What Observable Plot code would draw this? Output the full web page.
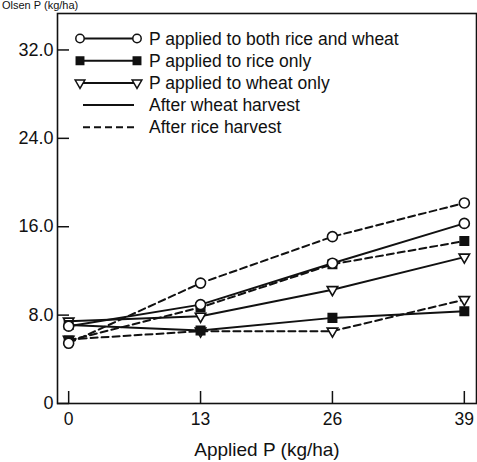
<!DOCTYPE html>
<html>
<head>
<meta charset="utf-8">
<script src="https://cdn.jsdelivr.net/npm/d3@7"></script>
<script src="https://cdn.jsdelivr.net/npm/@observablehq/plot@0.6"></script>
<style>
  html, body { margin: 0; padding: 0; background: #fff; }
  #wrap { position: relative; width: 477px; height: 462px; overflow: hidden; font-family: "Liberation Sans", Arial, sans-serif; }
  #title { position: absolute; left: 2px; top: 0px; font-size: 11px; line-height: 11px; color: #111; white-space: nowrap; }
  #chart { position: absolute; left: 0; top: 0; }
</style>
</head>
<body>
<div id="wrap">
  <div id="chart"></div>
  <div id="title">Olsen P (kg/ha)</div>
</div>
<script>
// ---- data ----
const xValues = [0, 13, 26, 39];
const xTicks = [0, 13, 26, 39];
const yTicks = [0, 8, 16, 24, 32];

const treatments = ["both", "rice", "wheat"];
const treatmentLabels = ["P applied to both rice and wheat", "P applied to rice only", "P applied to wheat only"];
const harvestLabels = ["After wheat harvest", "After rice harvest"];

// After wheat harvest (solid)
const bothWheat  = [7.0, 8.95, 12.7, 16.3];
const riceWheat  = [7.1, 6.6, 7.75, 8.35];
const wheatWheat = [7.45, 7.9, 10.3, 13.25];
// After rice harvest (dashed)
const bothRice   = [5.45, 10.9, 15.1, 18.15];
const riceRice   = [5.7, 8.7, 12.6, 14.7];
const wheatRice  = [5.8, 6.55, 6.55, 9.4];

const rows = [];
function add(arr, treatment, harvest) {
  arr.forEach((v, i) => rows.push({x: xValues[i], y: v, treatment, harvest, key: treatment + "-" + harvest}));
}
add(bothWheat, "both", "wheat");
add(riceWheat, "rice", "wheat");
add(wheatWheat, "wheat", "wheat");
add(bothRice, "both", "rice");
add(riceRice, "rice", "rice");
add(wheatRice, "wheat", "rice");

const solid = rows.filter(d => d.harvest === "wheat");
const dashed = rows.filter(d => d.harvest === "rice");
const circles = rows.filter(d => d.treatment === "both");
const squares = rows.filter(d => d.treatment === "rice");
const triangles = rows.filter(d => d.treatment === "wheat");

const DASH = "7,4";

const chart = Plot.plot({
  width: 477,
  height: 462,
  marginLeft: 57,
  marginRight: 1,
  marginTop: 13,
  marginBottom: 59,
  style: {fontFamily: "Liberation Sans, Arial, sans-serif", fontSize: "17px", color: "#111", background: "#fff"},
  x: {domain: [-1.1, 40.2]},
  y: {domain: [0, 35.3]},
  marks: [
    Plot.axisX(xTicks, {tickSize: -12, tickPadding: 21, strokeWidth: 1.5, label: null, fontSize: 17.5}),
    Plot.axisX({ticks: [], tickSize: 0, label: "Applied P (kg/ha)", labelAnchor: "center", labelArrow: "none", labelOffset: 52, fontSize: 19}),
    Plot.axisY(yTicks, {tickSize: -12, tickPadding: 16, strokeWidth: 1.5, tickFormat: d => d === 0 ? "0" : d.toFixed(1), label: null, fontSize: 18}),
    Plot.frame({stroke: "#111", strokeWidth: 1.6}),
    Plot.line(solid, {x: "x", y: "y", z: "key", stroke: "#111", strokeWidth: 2}),
    Plot.line(dashed, {x: "x", y: "y", z: "key", stroke: "#111", strokeWidth: 2, strokeDasharray: DASH}),
    Plot.dot(triangles, {x: "x", y: "y", symbol: "triangle", r: 3.9, rotate: 180, fill: "#fff", stroke: "#111", strokeWidth: 1.6}),
    Plot.dot(squares, {x: "x", y: "y", symbol: "square", r: 4.8, fill: "#111", stroke: "#111"}),
    Plot.dot(circles, {x: "x", y: "y", symbol: "circle", r: 5, fill: "#fff", stroke: "#111", strokeWidth: 1.6})
  ]
});
document.getElementById("chart").appendChild(chart);

// ---- in-plot legend (layout only) ----
const svg = d3.select(chart);
const lg = svg.append("g").attr("class", "legend").attr("text-anchor", "start");
const lx1 = 80, lx2 = 137, tx = 149, ly0 = 38.5, lstep = 22.2;
const symbolFor = {both: d3.symbolCircle, rice: d3.symbolSquare, wheat: d3.symbolTriangle};
const entries = [
  ...treatments.map((t, i) => ({label: treatmentLabels[i], treatment: t, dash: null})),
  {label: harvestLabels[0], treatment: null, dash: null},
  {label: harvestLabels[1], treatment: null, dash: DASH}
];
entries.forEach((e, i) => {
  const y = ly0 + i * lstep;
  const ex1 = e.treatment ? lx1 : lx1 + 3, ex2 = e.treatment ? lx2 : lx2 - 3;
  lg.append("line").attr("x1", ex1).attr("x2", ex2).attr("y1", y).attr("y2", y)
    .attr("stroke", "#111").attr("stroke-width", 2).attr("stroke-dasharray", e.dash);
  if (e.treatment) {
    [lx1, lx2].forEach(cx => {
      const r = e.treatment === "both" ? 4.2 : e.treatment === "rice" ? 4.2 : 3.6;
      const p = d3.symbol(symbolFor[e.treatment], Math.PI * r * r)();
      lg.append("path").attr("d", p)
        .attr("transform", `translate(${cx},${y})` + (e.treatment === "wheat" ? " rotate(180)" : ""))
        .attr("fill", e.treatment === "rice" ? "#111" : "#fff")
        .attr("stroke", "#111").attr("stroke-width", 1.5);
    });
  }
  lg.append("text").attr("x", tx).attr("y", y).attr("dy", "0.35em")
    .attr("font-size", 17.5).attr("fill", "#111").text(e.label);
});
</script>
</body>
</html>
